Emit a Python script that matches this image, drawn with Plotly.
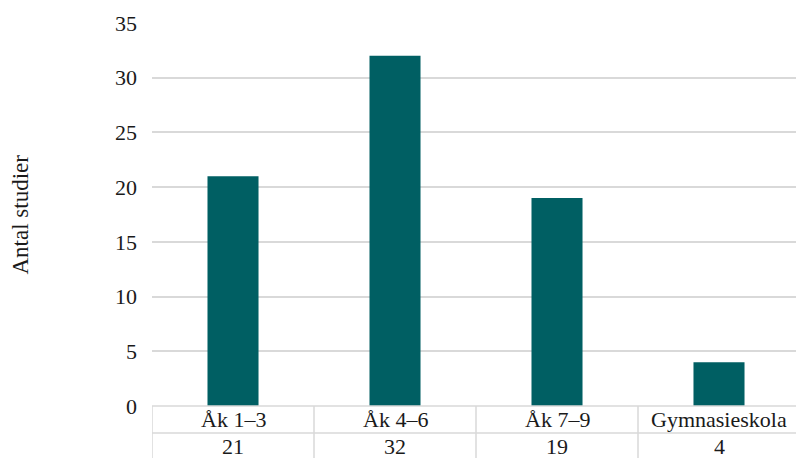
import plotly.graph_objects as go

# Antal studier per skolstadium
categories = ["Åk 1–3", "Åk 4–6", "Åk 7–9", "Gymnasieskola"]
values = [21, 32, 19, 4]
y_ticks = [0, 5, 10, 15, 20, 25, 30, 35]

FONT = "Liberation Serif"
TEXT = "#1a1a1a"
GRID = "#d9d9d9"
BAR = "#005f63"

W, H = 796, 458
ML, MR, MT, MB = 152, 0, 23, 52
plot_w = W - ML - MR
plot_h = H - MT - MB
cat_px = 162  # width of one category column; the last column runs past the page edge

fig = go.Figure(
    go.Bar(
        x=categories,
        y=values,
        marker=dict(color=BAR, line=dict(width=0)),
        width=0.315,
        hoverinfo="skip",
    )
)

# Data table below the plot area (category row + value row)
row_h = 27 / plot_h
shapes = []
for yy in [0, -row_h]:
    shapes.append(dict(type="line", xref="paper", yref="paper", x0=0, x1=1,
                       y0=yy, y1=yy, line=dict(color=GRID, width=1.5)))
for i in range(len(categories) + 1):
    shapes.append(dict(type="line", xref="x", yref="paper", x0=i - 0.5, x1=i - 0.5,
                       y0=0, y1=-3 * row_h, line=dict(color=GRID, width=1.5)))

annotations = []
for cat, val in zip(categories, values):
    annotations.append(dict(x=cat, xref="x", y=-0.5 * row_h, yref="paper",
                            text=cat, showarrow=False, yanchor="middle",
                            font=dict(family=FONT, size=22, color=TEXT)))
    annotations.append(dict(x=cat, xref="x", y=-1.5 * row_h, yref="paper",
                            text=str(val), showarrow=False, yanchor="middle",
                            font=dict(family=FONT, size=22, color=TEXT)))

annotations.append(dict(x=(20 - ML) / plot_w, xref="paper", y=0.5, yref="paper",
                        text="Antal studier", textangle=-90, showarrow=False,
                        xanchor="center", yanchor="middle",
                        font=dict(family=FONT, size=23, color=TEXT)))

fig.update_layout(
    width=W, height=H,
    margin=dict(l=ML, r=MR, t=MT, b=MB),
    paper_bgcolor="white", plot_bgcolor="white",
    font=dict(family=FONT, size=22, color=TEXT),
    showlegend=False,
    shapes=shapes,
    annotations=annotations,
    xaxis=dict(showticklabels=False, showgrid=False, zeroline=False,
               showline=False, ticks="",
               range=[-0.5, -0.5 + plot_w / cat_px]),
    yaxis=dict(range=[0, 35], tickvals=y_ticks, showgrid=True, gridcolor=GRID,
               gridwidth=1.5, zeroline=False, showline=False, ticks="",
               ticklabelstandoff=14,
               tickfont=dict(family=FONT, size=22, color=TEXT)),
)

fig.write_html("out.html")
